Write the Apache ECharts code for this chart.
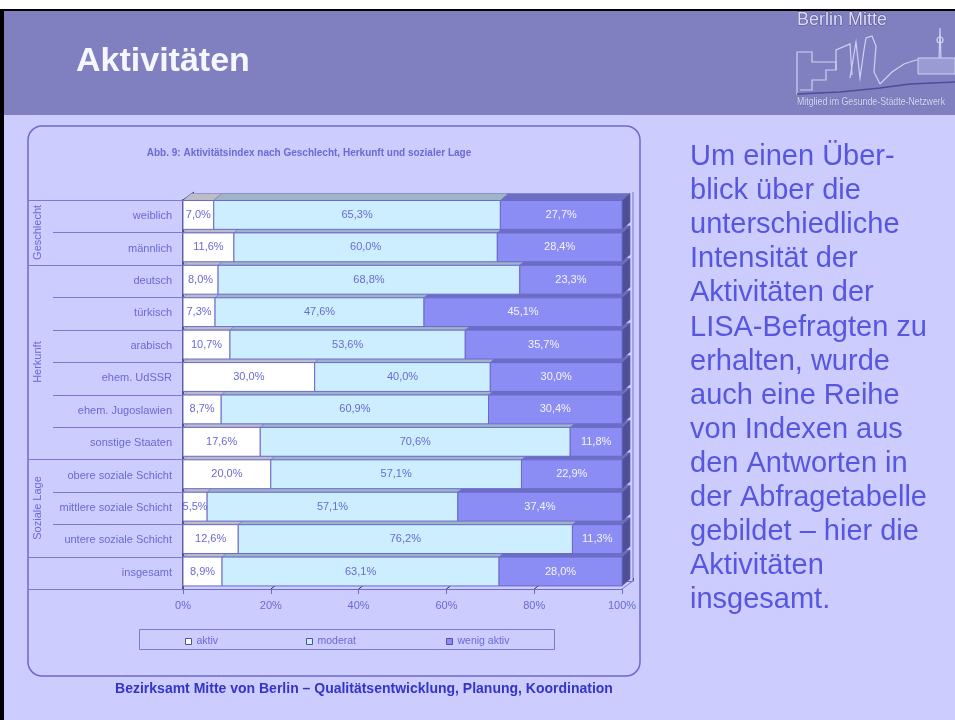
<!DOCTYPE html>
<html><head><meta charset="utf-8">
<script src="https://cdn.jsdelivr.net/npm/echarts@6/dist/echarts.min.js"></script>
<style>html,body{margin:0;padding:0;background:#fff}#c{width:955px;height:720px}</style>
</head><body><div id="c"></div>
<script>
// ---------- data ----------
const categories = ['weiblich','männlich','deutsch','türkisch','arabisch','ehem. UdSSR','ehem. Jugoslawien','sonstige Staaten','obere soziale Schicht','mittlere soziale Schicht','untere soziale Schicht','insgesamt'];
const aktiv      = [7.0, 11.6, 8.0, 7.3, 10.7, 30.0, 8.7, 17.6, 20.0, 5.5, 12.6, 8.9];
const moderat    = [65.3, 60.0, 68.8, 47.6, 53.6, 40.0, 60.9, 70.6, 57.1, 57.1, 76.2, 63.1];
const wenigAktiv = [27.7, 28.4, 23.3, 45.1, 35.7, 30.0, 30.4, 11.8, 22.9, 37.4, 11.3, 28.0];
const seriesNames = ['aktiv', 'moderat', 'wenig aktiv'];
const groupNames = ['Geschlecht', 'Herkunft', 'Soziale Lage'];
const groupFrom  = [0, 2, 8];
const groupTo    = [1, 7, 10];
const xTickValues = [0, 20, 40, 60, 80, 100];
const bodyLines = ['Um einen Über-','blick über die','unterschiedliche','Intensität der','Aktivitäten der','LISA-Befragten zu','erhalten, wurde','auch eine Reihe','von Indexen aus','den Antworten in','der Abfragetabelle','gebildet – hier die','Aktivitäten','insgesamt.'];

// ---------- styling ----------
const FF = '"Liberation Sans", Arial, Helvetica, sans-serif';
const TXT = '#6a6ad2';
const segs = [aktiv, moderat, wenigAktiv];
const faceColors = ['#ffffff', '#cceeff', '#8b8cf4'];
const topColors  = ['#bdbdc9', '#9fb4c6', '#6d6dc4'];
const labelColors = ['#6a6ad2', '#6a6ad2', '#f4f4ff'];
const GL = 183, GR = 622, GT = 200, GB = 589;
const DX = 8, DY = 7;        // bar depth
const WX = 11, WY = 8;       // wall depth
const rowH = (GB - GT) / categories.length;

function fmt(v){ return v.toFixed(1).replace('.', ',') + '%'; }

function makeRender(k){
  return function(params, api){
    const i = api.value(0);
    let total = 0; segs.forEach(s => total += s[i]);
    let start = 0; for (let j = 0; j < k; j++) start += segs[j][i];
    const v = api.value(1);
    const p0 = api.coord([start / total * 100, i]);
    const p1 = api.coord([(start + v) / total * 100, i]);
    const band = api.size([0, 1])[1];
    const y0 = p0[1] - band / 2 + 0.5;
    const h = band * 0.89;
    const x0 = p0[0], x1 = p1[0];
    const children = [
      {type:'polygon', z2:1, shape:{points:[[x0,y0],[x1,y0],[x1+DX,y0-DY],[x0+DX,y0-DY]]},
       style:{fill:topColors[k], stroke:'#7474c4', lineWidth:0.6}},
      {type:'rect', z2:3, shape:{x:x0, y:y0, width:x1-x0, height:h},
       style:{fill:faceColors[k], stroke:'#6a6acc', lineWidth:1}},
      {type:'text', z2:5, style:{text:fmt(v), x:(x0+x1)/2, y:y0+h/2, align:'center', verticalAlign:'middle',
       fill:labelColors[k], fontSize:11, fontFamily:FF}}
    ];
    if (k === segs.length - 1) {
      children.push({type:'polygon', z2:2, shape:{points:[[x1,y0],[x1+DX,y0-DY],[x1+DX,y0-DY+h],[x1,y0+h]]},
        style:{fill:'#4f4f96', stroke:'#5a5aa6', lineWidth:0.6}});
    }
    return {type:'group', children};
  };
}

// ---------- decorative graphics ----------
const graphics = [];
// page frame
graphics.push({type:'rect', z:-20, shape:{x:0,y:0,width:955,height:9}, style:{fill:'#ffffff'}});
graphics.push({type:'rect', z:-19, shape:{x:0,y:9,width:955,height:2}, style:{fill:'#000000'}});
graphics.push({type:'rect', z:-19, shape:{x:0,y:11,width:955,height:104}, style:{fill:'#8080c0'}});
graphics.push({type:'rect', z:-18, shape:{x:0,y:9,width:4,height:711}, style:{fill:'#000000'}});
graphics.push({type:'text', z:10, x:76, y:62, style:{text:'Aktivitäten', fill:'#f6f6ff', fontSize:34, fontWeight:'bold', fontFamily:FF, verticalAlign:'middle'}});
// logo
graphics.push({type:'text', z:10, x:797, y:11, style:{text:'Berlin Mitte', fill:'#dcdcf8', stroke:'#50508e', lineWidth:1, fontSize:18, fontFamily:FF}});
graphics.push({type:'polyline', z:10, shape:{points:[[797,95],[797,52],[812,52],[812,62],[836,62],[836,70],[826,70],[826,80],[812,80],[812,90],[800,90]]}, style:{stroke:'#d0d0f4', lineWidth:1.2, fill:null}});
graphics.push({type:'polyline', z:10, shape:{points:[[836,70],[836,50],[850,44],[852,75]]}, style:{stroke:'#d0d0f4', lineWidth:1.2, fill:null}});
graphics.push({type:'polyline', z:10, shape:{points:[[850,78],[856,42],[860,78],[864,50],[866,38],[872,36],[876,46],[874,72],[880,84]]}, style:{stroke:'#d0d0f4', lineWidth:1.2, fill:null}});
graphics.push({type:'polyline', z:10, shape:{points:[[880,84],[892,72],[904,64],[916,60],[955,60]]}, style:{stroke:'#d0d0f4', lineWidth:1.2, fill:null}});
graphics.push({type:'polyline', z:10, shape:{points:[[939,60],[940,28],[941,60]]}, style:{stroke:'#d0d0f4', lineWidth:1.2, fill:null}});
graphics.push({type:'circle', z:10, shape:{cx:940,cy:40,r:3}, style:{stroke:'#d0d0f4', lineWidth:1.2, fill:null}});
graphics.push({type:'rect', z:10, shape:{x:918,y:58,width:37,height:16}, style:{stroke:'#d0d0f4', lineWidth:1, fill:'#9a9ad4'}});
graphics.push({type:'polyline', z:10, smooth:0.4, shape:{points:[[797,94],[840,92],[880,88],[910,84],[955,82]]}, style:{stroke:'#4c4c98', lineWidth:1.6, fill:null}});
graphics.push({type:'text', z:10, x:797, y:96, scaleX:0.8, style:{text:'Mitglied im Gesunde-Städte-Netzwerk', fill:'#dcdcf8', stroke:'#5a5a9c', lineWidth:0.4, fontSize:11, fontFamily:FF}});
// chart panel
graphics.push({type:'rect', z:-10, shape:{x:28,y:126,width:612,height:550,r:14}, style:{fill:'#ccccff', stroke:'#6a6ad0', lineWidth:1.5}});
graphics.push({type:'text', z:10, x:309, y:153, style:{text:'Abb. 9: Aktivitätsindex nach Geschlecht, Herkunft und sozialer Lage', fill:TXT, fontSize:10, fontWeight:'bold', fontFamily:FF, align:'center', verticalAlign:'middle'}});
// category table lines
for (let k = 0; k <= categories.length; k++) {
  const y = Math.round(GT + k * rowH) + 0.5;
  const full = (k === 0 || k === categories.length || groupFrom.includes(k) || k === groupTo[groupTo.length-1] + 1);
  graphics.push({type:'line', z:1, shape:{x1: full ? 28 : 53, y1:y, x2:GL, y2:y}, style:{stroke:'#7a7ad4', lineWidth:1}});
}
groupNames.forEach((g, n) => {
  const yc = GT + (groupFrom[n] + groupTo[n] + 1) / 2 * rowH;
  graphics.push({type:'text', z:10, x:38, y:yc, rotation:Math.PI/2, style:{text:g, fill:TXT, fontSize:11, fontFamily:FF, align:'center', verticalAlign:'middle'}});
});
// 3D walls / floor
graphics.push({type:'line', z:1, shape:{x1:GL, y1:GT, x2:GL+WX, y2:GT-WY}, style:{stroke:'#303050', lineWidth:1}});
graphics.push({type:'line', z:1, shape:{x1:GR+WX, y1:GT-WY, x2:GR+WX, y2:GB-WY}, style:{stroke:'#7a7ad0', lineWidth:1}});
graphics.push({type:'line', z:1, shape:{x1:GR, y1:GB, x2:GR+WX, y2:GB-WY}, style:{stroke:'#7a7ad0', lineWidth:1}});
xTickValues.slice(1, -1).forEach(v => {
  const x = GL + v / 100 * (GR - GL);
  graphics.push({type:'line', z:1, shape:{x1:x, y1:GB, x2:x+4, y2:GB-3}, style:{stroke:'#303050', lineWidth:1}});
});
// legend box
graphics.push({type:'rect', z:1, shape:{x:139.5,y:629.5,width:415,height:20}, style:{fill:'#ccccff', stroke:'#7a7ad4', lineWidth:1}});
// footer
graphics.push({type:'text', z:10, x:364, y:689, style:{text:'Bezirksamt Mitte von Berlin – Qualitätsentwicklung, Planung, Koordination', fill:'#3434c8', fontSize:14, fontWeight:'bold', fontFamily:FF, align:'center', verticalAlign:'middle'}});
// right text
bodyLines.forEach((t, n) => {
  graphics.push({type:'text', z:10, x:690, y:157 + n * 34.1, style:{text:t, fill:'#5656e0', fontSize:29, fontFamily:FF, verticalAlign:'middle'}});
});

const chart = echarts.init(document.getElementById('c'));
chart.setOption({
  backgroundColor: '#ccccff',
  animation: false,
  grid: [
    {left:GL, top:GT, width:GR-GL, height:GB-GT, containLabel:false, outerBoundsMode:'none'},
    {left:GL+WX, top:GT-WY, width:GR-GL, height:GB-GT, containLabel:false, outerBoundsMode:'none'}
  ],
  xAxis: [
    {type:'value', gridIndex:0, min:0, max:100, interval:20,
     axisLine:{show:true, lineStyle:{color:'#6a6ad0'}},
     axisTick:{show:true, length:5, lineStyle:{color:'#6a6ad0'}},
     splitLine:{show:false},
     axisLabel:{formatter:'{value}%', color:TXT, fontSize:11, fontFamily:FF, margin:11}},
    {type:'value', gridIndex:1, position:'top', min:0, max:100, interval:20,
     axisLine:{show:true, lineStyle:{color:'#6a6ad0'}},
     axisTick:{show:true, length:3, inside:false, lineStyle:{color:'#303050'}},
     splitLine:{show:false}, axisLabel:{show:false}}
  ],
  yAxis: [
    {type:'category', gridIndex:0, data:categories, inverse:true,
     axisLine:{show:true, lineStyle:{color:'#55557a', width:2}},
     axisTick:{show:false},
     axisLabel:{color:TXT, fontSize:11, fontFamily:FF, margin:11}},
    {type:'value', gridIndex:1, show:false, min:0, max:1}
  ],
  legend: seriesNames.map((n, k) => ({
    data:[n], left:[185, 306, 446][k], top:636, padding:0, itemGap:0,
    itemWidth:6, itemHeight:6, icon:'rect', selectedMode:false,
    itemStyle:{borderColor:'#5050a8', borderWidth:1},
    textStyle:{color:TXT, fontSize:10.5, fontFamily:FF}
  })),
  series: seriesNames.map((name, k) => ({
    type:'custom', name, xAxisIndex:0, yAxisIndex:0,
    itemStyle:{color:faceColors[k]},
    encode:{x:1, y:0},
    data: categories.map((c, i) => [i, segs[k][i]]),
    renderItem: makeRender(k)
  })),
  graphic: graphics
});
</script>
</body></html>
